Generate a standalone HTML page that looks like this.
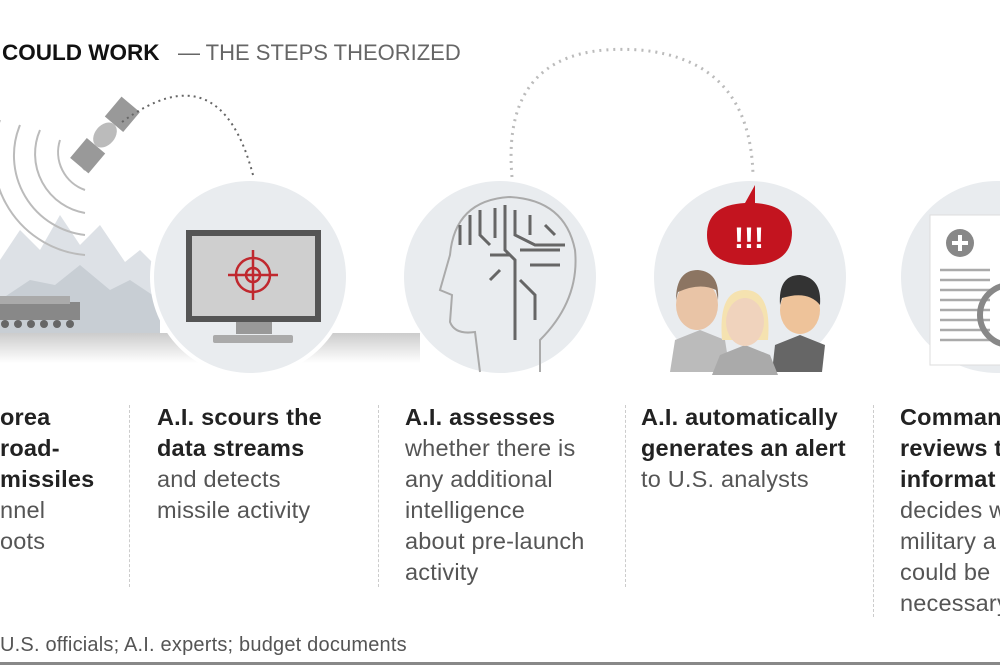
<!DOCTYPE html>
<html><head><meta charset="utf-8"><style>
body{margin:0;width:1000px;height:670px;overflow:hidden;background:#fff;font-family:"Liberation Sans",sans-serif;position:relative}
.t{position:absolute;font-size:23.5px;line-height:31px;color:#555;white-space:nowrap;letter-spacing:0.2px}
.t b{color:#222}
.d{position:absolute;top:405px;width:1px;border-left:1px dashed #ccc}
</style></head><body>
<div style="position:absolute;left:2px;top:40px;font-size:22.5px;color:#111;font-weight:bold;white-space:nowrap">COULD WORK <span style="font-weight:normal;color:#666;font-size:22px">&nbsp;&nbsp;— THE STEPS THEORIZED</span></div>

<svg width="1000" height="400" style="position:absolute;left:0;top:0">
<defs>
<linearGradient id="g" x1="0" y1="0" x2="0" y2="1"><stop offset="0" stop-color="#ccc"/><stop offset="1" stop-color="#fff"/></linearGradient>
</defs>
<path d="M0 260 L20 230 L40 250 L60 215 L80 245 L100 225 L125 262 L140 250 L160 270 L160 330 L0 330Z" fill="#dde1e6"/>
<path d="M0 300 L30 280 L55 285 L80 265 L110 290 L130 280 L160 300 L160 335 L0 335Z" fill="#c8ced4"/>
<rect x="0" y="333" width="420" height="30" fill="url(#g)"/>
<rect x="0" y="302" width="80" height="18" fill="#888"/>
<rect x="0" y="296" width="70" height="8" fill="#aaa"/>
<g fill="#666"><circle cx="5" cy="324" r="4"/><circle cx="18" cy="324" r="4"/><circle cx="31" cy="324" r="4"/><circle cx="44" cy="324" r="4"/><circle cx="57" cy="324" r="4"/><circle cx="70" cy="324" r="4"/></g>
<g fill="none" stroke="#bbb" stroke-width="2">
<path d="M80 150 A20 20 0 0 0 85 170"/><path d="M60 140 A40 40 0 0 0 85 190"/><path d="M40 130 A60 60 0 0 0 85 213"/><path d="M20 125 A80 80 0 0 0 85 235"/><path d="M0 120 A100 100 0 0 0 85 255"/>
</g>
<g transform="translate(105,135) rotate(40)">
<rect x="-12" y="-40" width="24" height="26" fill="#999"/>
<rect x="-12" y="14" width="24" height="26" fill="#999"/>
<ellipse cx="0" cy="0" rx="10" ry="14" fill="#bbb"/>
</g>
<path d="M122 122 Q220 50 253 175" fill="none" stroke="#666" stroke-width="2" stroke-dasharray="2 4"/>
<path d="M512 177 Q500 40 640 50 Q750 60 753 175" fill="none" stroke="#bbb" stroke-width="3" stroke-dasharray="2 5"/>
<circle cx="250" cy="277" r="100" fill="#fff"/>
<circle cx="250" cy="277" r="96" fill="#e9ecef"/>
<circle cx="500" cy="277" r="96" fill="#e9ecef"/>
<circle cx="750" cy="277" r="96" fill="#e9ecef"/>
<circle cx="997" cy="277" r="96" fill="#e9ecef"/>
<rect x="186" y="230" width="135" height="92" fill="#555"/>
<rect x="192" y="236" width="123" height="80" fill="#cfcfcf"/>
<rect x="236" y="322" width="36" height="12" fill="#999"/>
<rect x="213" y="335" width="80" height="8" rx="2" fill="#aaa"/>
<g stroke="#c0282e" stroke-width="2.5" fill="none"><circle cx="253" cy="275" r="17"/><circle cx="253" cy="275" r="7"/><path d="M253 250V300M228 275H278"/></g>
<path d="M540 372 L540 340 Q580 300 575 250 Q565 200 510 197 Q455 200 450 255 L440 290 L452 295 L450 322 Q455 335 475 332 L480 372" fill="none" stroke="#aaa" stroke-width="2"/>
<g stroke="#666" stroke-width="3" fill="none">
<path d="M460 225v20M470 215v30M480 210v25l10 10M495 208v30M505 205v45l10 10v80M515 210v25l20 10h30M530 215v20M545 225l10 10M520 250h40M530 265h30M520 280l15 15v25M490 255h20M500 270l-10 10"/>
</g>
<path d="M755 185 L755 203 Q790 205 792 232 Q792 265 750 265 Q707 265 707 235 Q707 205 745 203Z" fill="#c3141f"/>
<text x="749" y="248" font-size="30" font-weight="bold" fill="#fff" text-anchor="middle" font-family="Liberation Sans">!!!</text>
<g>
<path d="M670 372 L675 340 L700 330 L725 340 L730 372Z" fill="#bbb"/>
<ellipse cx="697" cy="305" rx="21" ry="25" fill="#e9c4a6"/>
<path d="M676 300 Q676 270 698 270 Q720 272 718 300 L716 290 Q700 282 678 292Z" fill="#8c7562"/>
<path d="M772 372 L775 345 L800 335 L825 345 L822 372Z" fill="#666"/>
<ellipse cx="800" cy="310" rx="20" ry="24" fill="#eec39a"/>
<path d="M780 305 Q778 275 800 275 Q822 278 820 305 Q808 290 782 298Z" fill="#333"/>
<path d="M712 375 L720 355 L745 345 L770 355 L778 375Z" fill="#aaa"/>
<path d="M722 340 Q718 290 745 290 Q772 290 768 340Z" fill="#f5e2b0"/>
<ellipse cx="745" cy="322" rx="19" ry="24" fill="#f0d3bd"/>
</g>
<rect x="930" y="215" width="75" height="150" fill="#fff" stroke="#ddd"/>
<circle cx="960" cy="243" r="14" fill="#888"/><path d="M960 235v16M952 243h16" stroke="#fff" stroke-width="4"/>
<g stroke="#aaa" stroke-width="2.5"><path d="M940 270h50M940 280h50M940 290h50M940 300h50M940 310h50M940 320h50M940 330h50M940 340h50"/></g>
<circle cx="1010" cy="315" r="30" fill="none" stroke="#888" stroke-width="6"/>
</svg>

<div class="t" style="left:0;top:402px"><b>orea<br>road-<br>missiles</b><br>nnel<br>oots</div>
<div class="d" style="left:129px;height:182px"></div>
<div class="t" style="left:157px;top:402px"><b>A.I. scours the<br>data streams</b><br>and detects<br>missile activity</div>
<div class="d" style="left:378px;height:182px"></div>
<div class="t" style="left:405px;top:402px"><b>A.I. assesses</b><br>whether there is<br>any additional<br>intelligence<br>about pre-launch<br>activity</div>
<div class="d" style="left:625px;height:182px"></div>
<div class="t" style="left:641px;top:402px"><b>A.I. automatically<br>generates an alert</b><br>to U.S. analysts</div>
<div class="d" style="left:873px;height:212px"></div>
<div class="t" style="left:900px;top:402px"><b>Comman<br>reviews t<br>informat</b><br>decides w<br>military a<br>could be<br>necessary</div>
<div class="t" style="left:0;top:630px;font-size:20px;color:#555">U.S. officials; A.I. experts; budget documents</div>
<div style="position:absolute;left:0;top:662px;width:1000px;height:3px;background:#888"></div>
</body></html>
